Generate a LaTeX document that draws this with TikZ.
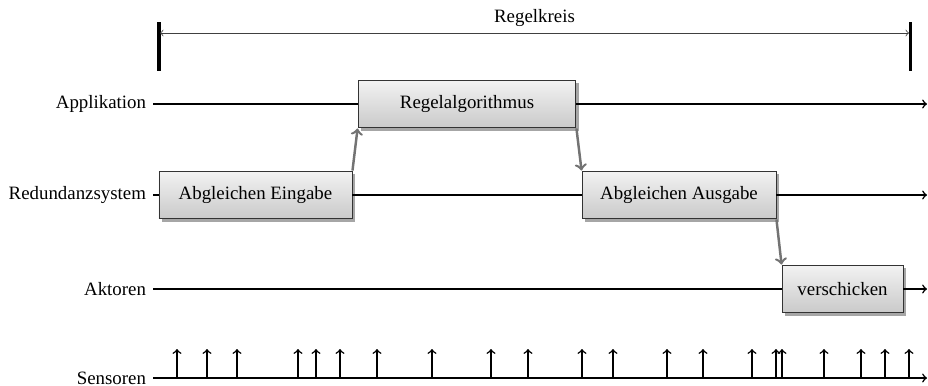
\documentclass[tikz,border=0pt]{standalone}
\usepackage{fontspec}
\setmainfont{Liberation Serif}
\usetikzlibrary{shadows}

\tikzset{
    lane/.style={line width=0.8pt, ->},
    lanelabel/.style={anchor=east, inner sep=3.5pt},
    task/.style={draw=black!80, line width=0.5pt, top color=gray!10, bottom color=gray!42,
        minimum height=25.4pt, inner sep=0pt,
        drop shadow={shadow xshift=1.6pt, shadow yshift=-1.6pt, fill=gray, opacity=0.7}},
    handoff/.style={->, line width=1.3pt, color=black!55},
    sensor/.style={->, line width=0.8pt}
}

\begin{document}
\begin{tikzpicture}[x=0.53pt, y=0.53pt]
    \useasboundingbox (0, 0) rectangle (928, 385);

    % draw control loop bracket
    \draw[line width=1.6pt] (159, 363) -- (159, 314);
    \draw[line width=1.6pt] (910, 363) -- (910, 314);
    \coordinate (kreisL) at (160, 352);
    \coordinate (kreisR) at (909, 352);
    \draw[<->, line width=0.4pt, color=black!75] (kreisL) -- (kreisR)
        node[midway, above, color=black] (kreis) {Regelkreis};

    % lane labels
    \node[lanelabel] (app) at (153, 281) {Applikation};
    \node[lanelabel] (red) at (153, 190) {Redundanzsystem};
    \node[lanelabel] (akt) at (153, 96)  {Aktoren};
    \node[lanelabel] (sen) at (153, 7)   {Sensoren};

    % lane ends
    \coordinate (appEnd) at (927, 281);
    \coordinate (redEnd) at (927, 190);
    \coordinate (aktEnd) at (927, 96);
    \coordinate (senEnd) at (927, 7);

    % draw tasks
    \node[task, minimum width=102.3pt] (eingabe) at (255.5, 190) {Abgleichen Eingabe};
    \node[task, minimum width=115.5pt] (regel) at (467, 281) {Regelalgorithmus};
    \node[task, minimum width=102.8pt] (ausgabe) at (679, 190) {Abgleichen Ausgabe};
    \node[task, minimum width=64.1pt] (verschicken) at (842.5, 96) {verschicken};

    % draw lanes
    \draw[line width=0.8pt] (app.east) -- (regel.west);
    \draw[lane] (regel.east) -- (appEnd);
    \draw[line width=0.8pt] (red.east) -- (eingabe.west);
    \draw[line width=0.8pt] (eingabe.east) -- (ausgabe.west);
    \draw[lane] (ausgabe.east) -- (redEnd);
    \draw[line width=0.8pt] (akt.east) -- (verschicken.west);
    \draw[lane] (verschicken.east) -- (aktEnd);
    \draw[lane] (sen.east) -- (senEnd);

    % draw hand-offs
    \draw[handoff] (eingabe.north east) -- (regel.south west);
    \draw[handoff] (regel.south east) -- (ausgabe.north west);
    \draw[handoff] (ausgabe.south east) -- (verschicken.north west);

    % draw sensor samples
    \foreach \t in {177, 207, 237, 298, 316, 340, 377, 432, 491, 528, 582, 613, 667, 703, 752, 776, 782, 824, 861, 885, 909}
        \draw[sensor] (\t, 7) -- (\t, 36);

\end{tikzpicture}
\end{document}
